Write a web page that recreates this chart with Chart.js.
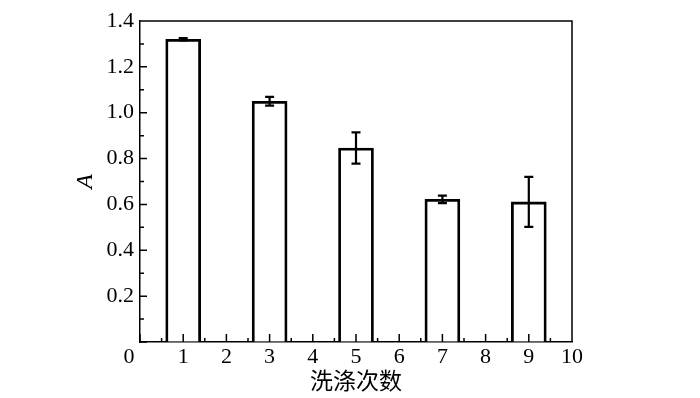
<!DOCTYPE html>
<html>
<head>
<meta charset="utf-8">
<script src="https://cdn.jsdelivr.net/npm/chart.js@4/dist/chart.umd.min.js"></script>
<style>
  body { margin: 0; background: #fff; }
  #wrap { width: 700px; height: 398px; }
</style>
</head>
<body>
<div id="wrap"><canvas id="washChart"></canvas></div>
<script>
// data
const washCounts = [1, 3, 5, 7, 9];
const absorbance = [1.32, 1.05, 0.846, 0.622, 0.611];
const absError = [0.005, 0.019, 0.068, 0.016, 0.109];
const xTickValues = [0, 1, 2, 3, 4, 5, 6, 7, 8, 9, 10];
const yTickValues = [0, 0.2, 0.4, 0.6, 0.8, 1.0, 1.2, 1.4];
const xMinorTicks = [0.5, 1.5, 2.5, 3.5, 4.5, 5.5, 6.5, 7.5, 8.5, 9.5];
const yMinorTicks = [0.1, 0.3, 0.5, 0.7, 0.9, 1.1, 1.3];

const serif = "'Liberation Serif', 'Times New Roman', 'Noto Sans CJK SC', serif";

// error bars, inward ticks, the top/right frame and the shared origin "0"
const extras = {
    id: 'extras',
    afterDatasetsDraw(chart) {
        const ctx = chart.ctx;
        const xs = chart.scales.x;
        const ys = chart.scales.y;
        ctx.save();
        ctx.strokeStyle = '#000';
        ctx.lineWidth = 2.2;
        washCounts.forEach((pos, i) => {
            const x = xs.getPixelForValue(pos);
            const top = ys.getPixelForValue(absorbance[i] + absError[i]);
            const bot = ys.getPixelForValue(absorbance[i] - absError[i]);
            ctx.beginPath();
            ctx.moveTo(x, top); ctx.lineTo(x, bot);
            ctx.moveTo(x - 4.5, top); ctx.lineTo(x + 4.5, top);
            ctx.moveTo(x - 4.5, bot); ctx.lineTo(x + 4.5, bot);
            ctx.stroke();
        });
        ctx.restore();
    },
    afterDraw(chart) {
        const ctx = chart.ctx;
        const area = chart.chartArea;
        const xs = chart.scales.x;
        const ys = chart.scales.y;
        ctx.save();
        ctx.strokeStyle = '#000';
        ctx.lineWidth = 1.5;
        ctx.beginPath();
        ctx.moveTo(area.left, area.top);
        ctx.lineTo(area.right, area.top);
        ctx.lineTo(area.right, area.bottom);
        const tickX = (v, len) => {
            const x = xs.getPixelForValue(v);
            ctx.moveTo(x, area.bottom); ctx.lineTo(x, area.bottom - len);
        };
        const tickY = (v, len) => {
            const y = ys.getPixelForValue(v);
            ctx.moveTo(area.left, y); ctx.lineTo(area.left + len, y);
        };
        xTickValues.forEach(v => tickX(v, 8));
        xMinorTicks.forEach(v => tickX(v, 4));
        yTickValues.forEach(v => tickY(v, 7));
        yMinorTicks.forEach(v => tickY(v, 4));
        ctx.stroke();
        ctx.fillStyle = '#000';
        ctx.font = '22px ' + serif;
        ctx.textAlign = 'center';
        ctx.textBaseline = 'middle';
        ctx.fillText('0', xs.getPixelForValue(0) - 11, area.bottom + 15);
        ctx.restore();
    }
};

new Chart(document.getElementById('washChart'), {
    type: 'bar',
    data: {
        datasets: [{
            data: washCounts.map((x, i) => ({ x: x, y: absorbance[i] })),
            backgroundColor: '#fff',
            borderColor: '#000',
            borderWidth: 2.8,
            borderSkipped: 'start',
            barThickness: 35
        }]
    },
    options: {
        responsive: true,
        maintainAspectRatio: false,
        animation: false,
        layout: { padding: { left: 71, right: 128, top: 21, bottom: 0 } },
        plugins: { legend: { display: false }, tooltip: { enabled: false } },
        scales: {
            x: {
                type: 'linear',
                min: 0,
                max: 10,
                offset: false,
                afterBuildTicks: s => { s.ticks = xTickValues.map(v => ({ value: v })); },
                afterFit: s => { s.height = 56; },
                ticks: {
                    color: '#000',
                    padding: 2,
                    maxRotation: 0,
                    font: { family: serif, size: 22 },
                    callback: v => (v === 0 ? '' : String(v))
                },
                grid: { drawOnChartArea: false, drawTicks: false },
                border: { color: '#000', width: 1.5 },
                title: {
                    display: true,
                    text: '洗涤次数',
                    color: '#000',
                    font: { family: serif, size: 23 },
                    padding: { top: 0, bottom: 1 }
                }
            },
            y: {
                min: 0,
                max: 1.4,
                afterBuildTicks: s => { s.ticks = yTickValues.map(v => ({ value: v })); },
                afterFit: s => { s.width = 69; },
                ticks: {
                    color: '#000',
                    padding: 6,
                    font: { family: serif, size: 22 },
                    callback: v => (v === 0 ? '' : v.toFixed(1))
                },
                grid: { drawOnChartArea: false, drawTicks: false },
                border: { color: '#000', width: 1.5 },
                title: {
                    display: true,
                    text: 'A',
                    color: '#000',
                    font: { family: serif, size: 24, style: 'italic' },
                    padding: { top: 0, bottom: 0 }
                }
            }
        }
    },
    plugins: [extras]
});
</script>
</body>
</html>
